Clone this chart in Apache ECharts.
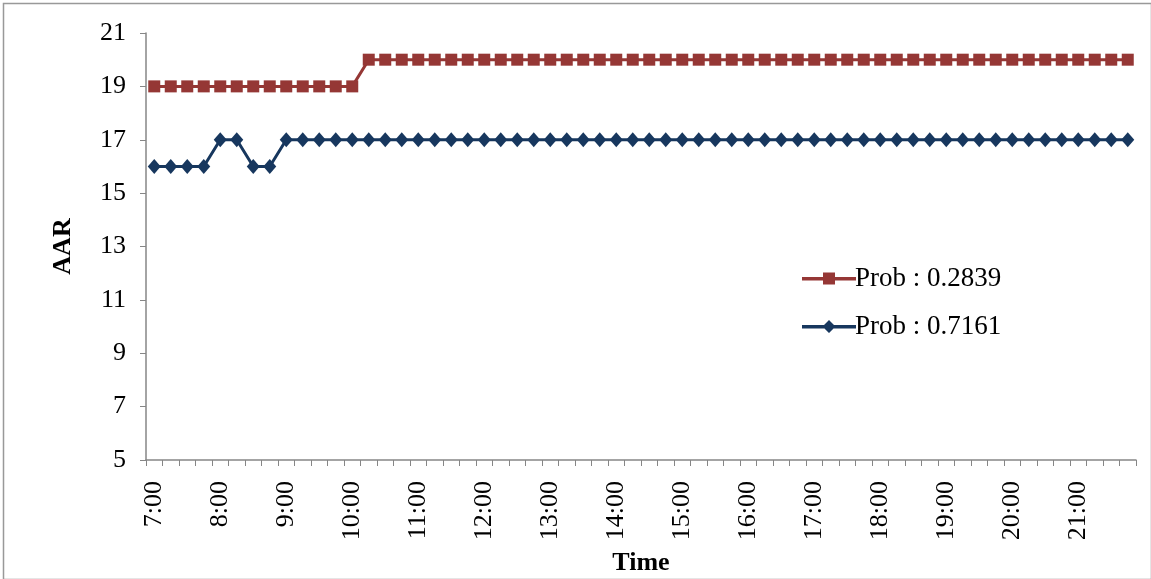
<!DOCTYPE html>
<html><head><meta charset="utf-8">
<script src="https://cdn.jsdelivr.net/npm/echarts@6/dist/echarts.min.js"></script>
<style>html,body{margin:0;padding:0;background:#fff}#c{width:1151px;height:579px}</style>
</head><body><div id="c"></div>
<script>
var times = [];
for (var h = 7; h <= 21; h++) { ['00','15','30','45'].forEach(function(m){ times.push(h + ':' + m); }); }
var seriesNames = ['Prob : 0.2839', 'Prob : 0.7161'];
var redValues = [19,19,19,19,19,19,19,19,19,19,19,19,19,
  20,20,20,20,20,20,20,20,20,20,20,20,20,20,20,20,20,20,20,20,20,20,20,20,20,20,20,20,20,20,20,20,20,20,20,20,20,20,20,20,20,20,20,20,20,20,20];
var blueValues = [16,16,16,16,17,17,16,16,
  17,17,17,17,17,17,17,17,17,17,17,17,17,17,17,17,17,17,17,17,17,17,17,17,17,17,17,17,17,17,17,17,17,17,17,17,17,17,17,17,17,17,17,17,17,17,17,17,17,17,17,17];
var yMin = 5, yMax = 21, yStep = 2;

var font = '"Liberation Serif", "Times New Roman", serif';
var axisColor = '#868686';
var iconRed = 'path://M0,5L54,5L54,8.5L0,8.5Z M21,0.5L33,0.5L33,12.5L21,12.5Z M0,0L0.01,0L0.01,13L0,13Z';
var iconBlue = 'path://M0,5L54,5L54,8.5L0,8.5Z M27,0L33.5,6.5L27,13L20.5,6.5Z';
var chart = echarts.init(document.getElementById('c'));
chart.setOption({
  animation: false,
  backgroundColor: '#fff',
  graphic: [{type:'rect', left:1, top:1, shape:{x:0,y:0,width:1148,height:576}, style:{fill:'none', stroke:'#999', lineWidth:1.5}, silent:true}],
  grid: {left:146, top:33, right:15, bottom:119, containLabel:false, outerBoundsMode:'none'},
  legend: {
    orient:'vertical', left:797, top:260, itemWidth:54, itemHeight:13, itemGap:21,
    textStyle:{fontFamily:font, fontSize:27, color:'#000', padding:[0,0,0,-6]},
    data: [
      {name: seriesNames[0], icon: iconRed},
      {name: seriesNames[1], icon: iconBlue}
    ]
  },
  xAxis: {
    type:'category', data: times, boundaryGap:true,
    name:'Time', nameLocation:'middle', nameGap:90,
    nameTextStyle:{fontFamily:font, fontSize:26, fontWeight:'bold', color:'#000'},
    axisLine:{lineStyle:{color:axisColor, width:1.5}},
    axisTick:{show:true, interval:0, length:6, lineStyle:{color:axisColor}},
    axisLabel:{interval:3, rotate:90, fontFamily:font, fontSize:26, color:'#000', margin:21}
  },
  yAxis: {
    type:'value', min:yMin, max:yMax, interval:yStep,
    name:'AAR', nameLocation:'middle', nameGap:70, nameRotate:90,
    nameTextStyle:{fontFamily:font, fontSize:26, fontWeight:'bold', color:'#000'},
    axisLine:{show:true, lineStyle:{color:axisColor, width:1.5}},
    axisTick:{show:true, length:6, lineStyle:{color:axisColor}},
    splitLine:{show:false},
    axisLabel:{fontFamily:font, fontSize:26, color:'#000', margin:20}
  },
  series: [
    {name:seriesNames[0], type:'line', data:redValues, symbol:'rect', symbolSize:12, showAllSymbol:true,
     lineStyle:{color:'#953735', width:3}, itemStyle:{color:'#953735'}},
    {name:seriesNames[1], type:'line', data:blueValues, symbol:'diamond', symbolSize:[13,15], showAllSymbol:true,
     lineStyle:{color:'#17375E', width:3}, itemStyle:{color:'#17375E'}}
  ]
});
</script></body></html>
